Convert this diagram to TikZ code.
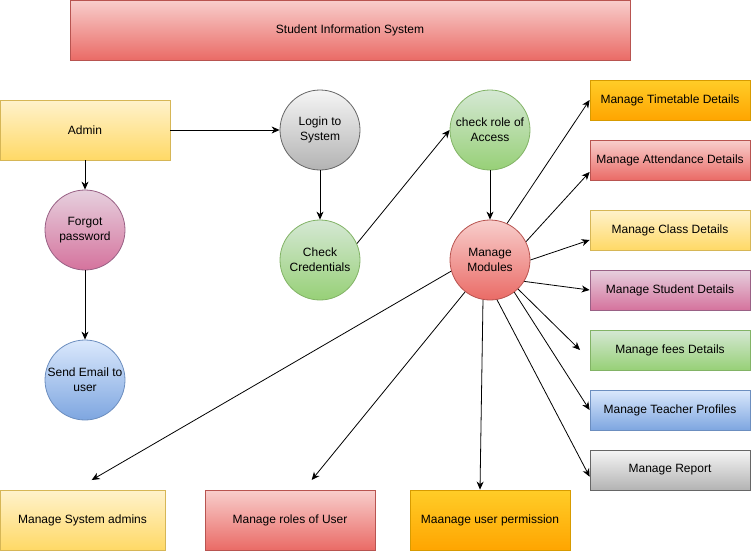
\documentclass[tikz,border=0pt]{standalone}
\usepackage{fontspec}
\setmainfont{Liberation Sans}
\usetikzlibrary{arrows.meta,shadings}
\definecolor{redT}{HTML}{F8CECC}\definecolor{redB}{HTML}{EA6B66}\definecolor{redS}{HTML}{B85450}
\definecolor{yelT}{HTML}{FFF2CC}\definecolor{yelB}{HTML}{FFD966}\definecolor{yelS}{HTML}{D6B656}
\definecolor{oraT}{HTML}{FFCD28}\definecolor{oraB}{HTML}{FFA500}\definecolor{oraS}{HTML}{D79B00}
\definecolor{pinT}{HTML}{E6D0DE}\definecolor{pinB}{HTML}{D5739D}\definecolor{pinS}{HTML}{996185}
\definecolor{grnT}{HTML}{D5E8D4}\definecolor{grnB}{HTML}{97D077}\definecolor{grnS}{HTML}{82B366}
\definecolor{bluT}{HTML}{DAE8FC}\definecolor{bluB}{HTML}{7EA6E0}\definecolor{bluS}{HTML}{6C8EBF}
\definecolor{gryT}{HTML}{F5F5F5}\definecolor{gryB}{HTML}{B3B3B3}\definecolor{gryS}{HTML}{666666}
\tikzset{
  base/.style={font=\fontsize{12}{15}\selectfont, align=center, inner sep=0pt, line width=0.8pt},
  red/.style={top color=redT, bottom color=redB, draw=redS},
  yel/.style={top color=yelT, bottom color=yelB, draw=yelS},
  ora/.style={top color=oraT, bottom color=oraB, draw=oraS},
  pin/.style={top color=pinT, bottom color=pinB, draw=pinS},
  grn/.style={top color=grnT, bottom color=grnB, draw=grnS},
  blu/.style={top color=bluT, bottom color=bluB, draw=bluS},
  gry/.style={top color=gryT, bottom color=gryB, draw=gryS},
  proc/.style={base, circle, minimum size=80pt},
  box/.style={base, rectangle, minimum width=160pt, minimum height=40pt},
  bigbox/.style={base, rectangle, minimum height=60pt},
  conn/.style={-{Stealth[length=8pt,width=7pt,inset=2.5pt]}, line width=0.8pt, black}
}
\begin{document}
\begin{tikzpicture}[x=1pt,y=-1pt]
\useasboundingbox (0,0) rectangle (751,551);
\node[bigbox, red, minimum width=560pt] (title) at (350,30) {Student Information System};
\node[bigbox, yel, minimum width=170pt] (admin) at (85,130) {Admin};
\node[proc, pin] (fp) at (85,230) {Forgot\\password};
\node[proc, blu] (se) at (85,380) {Send Email to\\user};
\node[proc, gry] (login) at (320,130) {Login to\\System};
\node[proc, grn] (cc) at (320,260) {Check\\Credentials};
\node[proc, grn] (cr) at (490,130) {check role of\\Access};
\node[proc, red] (mm) at (490,260) {Manage\\Modules};
\node[box, ora] (tt) at (670,100) {Manage Timetable Details};
\node[box, red] (att) at (670,160) {Manage Attendance Details};
\node[box, yel] (cls) at (670,230) {Manage Class Details};
\node[box, pin] (stu) at (670,290) {Manage Student Details};
\node[box, grn] (fees) at (670,350) {Manage fees Details};
\node[box, blu] (tch) at (670,410) {Manage Teacher Profiles};
\node[box, gry] (rep) at (670,470) {Manage Report};
\node[bigbox, yel, minimum width=165pt] (sys) at (82.5,520) {Manage System admins};
\node[bigbox, red, minimum width=170pt] (roles) at (290,520) {Manage roles of User};
\node[bigbox, ora, minimum width=160pt] (perm) at (490,520) {Maanage user permission};
\coordinate (feesend) at (580,350);
\coordinate (rolesend) at (311.7,480);
\coordinate (sysend) at (91.7,480);
\draw[conn] (admin.east) -- (login.west);
\draw[conn] (admin.south) -- (fp.north);
\draw[conn] (fp.south) -- (se.north);
\draw[conn] (login.south) -- (cc.north);
\draw[conn] (cc.24) -- (cr.west);
\draw[conn] (cr.south) -- (mm.north);
\draw[conn] (mm.65) -- (tt.west);
\draw[conn] (mm.27) -- ([yshift=-12pt]att.west);
\draw[conn] (mm.0) -- ([yshift=-10pt]cls.west);
\draw[conn] (mm.-32) -- (stu.west);
\draw[conn] (mm.-46) -- (feesend);
\draw[conn] (mm.-53) -- (tch.west);
\draw[conn] (mm.-80) -- ([yshift=-6.7pt]rep.west);
\draw[conn] (mm.-100) -- ([xshift=-10pt]perm.north);
\draw[conn] (mm.-128) -- (rolesend);
\draw[conn] (mm.196) -- (sysend);
\end{tikzpicture}
\end{document}
